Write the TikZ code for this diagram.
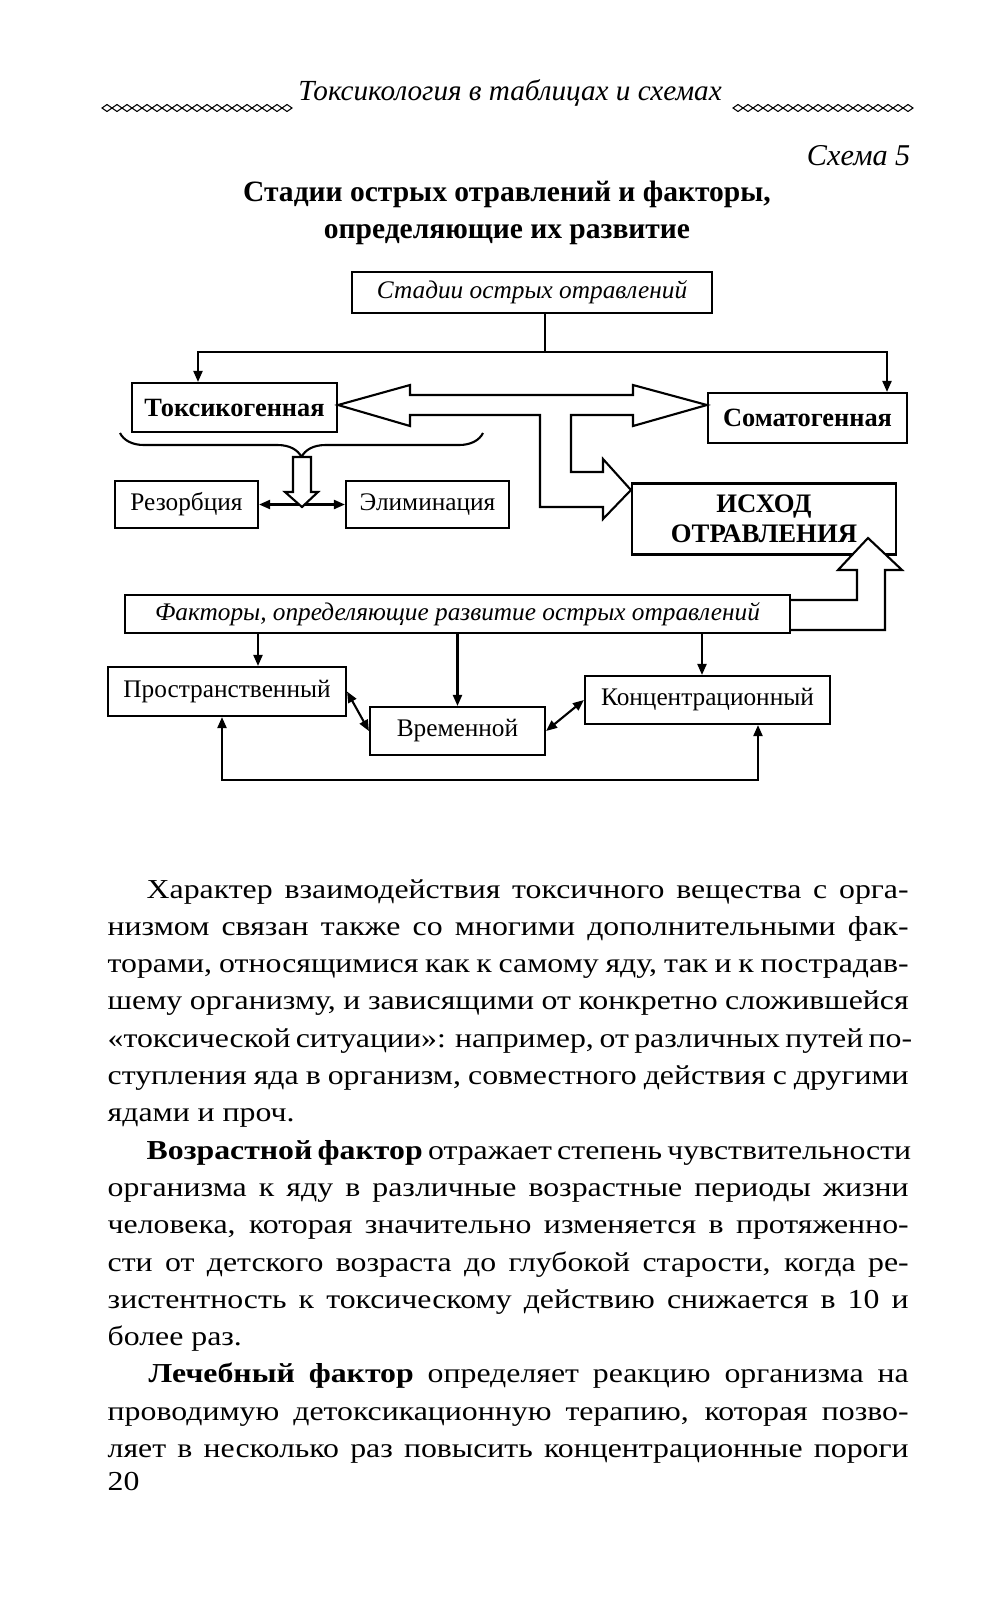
\documentclass[tikz,border=0pt]{standalone}
\usepackage{fontspec}
\setmainfont{Liberation Serif}
\newfontfamily\bodyfont[FakeStretch=1.16]{Liberation Serif}
\usetikzlibrary{arrows.meta,positioning,calc,decorations.pathreplacing}
\newcommand{\fullline}[1]{\makebox[80.1mm][s]{#1}}
\newcommand{\indline}[1]{\makebox[76.2mm][s]{#1}}

\begin{document}
\begin{tikzpicture}[x=0.1mm,y=-0.1mm,
      >={Triangle[length=1.1mm,width=0.9mm]},
      box/.style={draw,line width=0.6pt,inner sep=0pt,align=center,
                  font=\fontsize{7.2}{8}\selectfont},
      boxb/.style={box,font=\fontsize{7.5}{8}\selectfont\bfseries},
      boxi/.style={box,font=\fontsize{7.2}{8}\selectfont\itshape},
      wire/.style={line width=0.6pt},
      blk/.style={draw,fill=white,line width=0.6pt},
      orn/.style={line width=0.3pt},
      txt/.style={anchor=base west,inner sep=0pt,font=\fontsize{7.8}{9}\bodyfont}]
    \path[use as bounding box] (0,0) rectangle (996,1600);

    % page head
    \node[anchor=base,inner sep=0pt,font=\fontsize{8.3}{10}\selectfont\itshape] (head) at (510,100)
      {Токсикология в таблицах и схемах};
    \foreach \i in {0,...,18}
      \draw[orn] (102+\i*10,108) -- ++(5,-3.5) -- ++(5,3.5) -- ++(-5,3.5) -- cycle;
    \foreach \i in {0,...,17}
      \draw[orn] (733+\i*10,108) -- ++(5,-3.5) -- ++(5,3.5) -- ++(-5,3.5) -- cycle;
    \node[anchor=base east,inner sep=0pt,font=\fontsize{8.6}{10}\selectfont\itshape] (scheme) at (911,165) {Схема 5};
    \node[anchor=base,inner sep=0pt,font=\fontsize{8.4}{10}\selectfont\bfseries] (title1) at (507,201)
      {Стадии острых отравлений и факторы,};
    \node[anchor=base,inner sep=0pt,font=\fontsize{8.4}{10}\selectfont\bfseries] (title2) at (507,238)
      {определяющие их развитие};

    % stages
    \node[boxi,minimum width=36mm,minimum height=4.1mm] (stadii) at (532,292.5) {Стадии острых отравлений};
    \node[boxb,minimum width=20.5mm,minimum height=4.9mm] (toks) at (234.5,407.5) {Токсикогенная};
    \node[boxb,minimum width=19.9mm,minimum height=5mm] (somat) at (807.5,418) {Соматогенная};
    \node[box,minimum width=14.3mm,minimum height=4.7mm] (rezorb) at (186.5,504.5) {Резорбция};
    \node[box,minimum width=16.3mm,minimum height=4.7mm] (elim) at (427.5,504.5) {Элиминация};
    \node[boxb,font=\fontsize{7.6}{8.4}\selectfont\bfseries,minimum width=26.4mm,minimum height=7.1mm]
      (ishod) at (764,519) {ИСХОД\\ОТРАВЛЕНИЯ};

    \coordinate (fork) at (545,352);
    \draw[wire] (stadii.south -| fork) -- (fork);
    \draw[wire,->] (fork) -| (toks.north -| 198,0);
    \draw[wire,->] (fork) -| (somat.north -| 887,0);

    % two-way block arrow with its branch to the outcome
    \draw[blk] (toks.east |- 0,405) -- (410,385) -- (410,395) -- (633,395) -- (633,385)
      -- (somat.west |- 0,405) -- (633,426) -- (633,415) -- (571,415) -- (571,472)
      -- (603,472) -- (603,459) -- (ishod.west |- 0,490) -- (603,519) -- (603,507)
      -- (540,507) -- (540,415) -- (410,415) -- (410,426) -- cycle;

    \draw[wire,decorate,decoration={brace,mirror,amplitude=2.4mm}] (120,433) -- (483,433);
    \draw[wire,<->] (rezorb) -- (elim);
    \draw[blk] (293,457) -- (311,457) -- (311,492) -- (318,492) -- (302,507) -- (285,492)
      -- (293,492) -- cycle;

    % factors
    \node[boxi,minimum width=66.5mm,minimum height=3.8mm] (factors) at (457.5,614)
      {Факторы, определяющие развитие острых отравлений};
    \node[box,minimum width=23.8mm,minimum height=4.9mm] (prostr) at (227,691.5) {Пространственный};
    \node[box,minimum width=17.5mm,minimum height=4.8mm] (vrem) at (457.5,731) {Временной};
    \node[box,minimum width=24.5mm,minimum height=4.8mm] (konc) at (707.5,700) {Концентрационный};

    \draw[blk] (factors.east |- 0,600) -- (857,600) -- (857,570) -- (838,570) -- (868,538)
      -- (902,570) -- (885,570) -- (885,630) -- (factors.east |- 0,630);

    \foreach \x/\n in {258/prostr,457.5/vrem,702/konc}
      \draw[wire,->] (factors.south -| \x,0) -- (\n.north -| \x,0);
    \draw[wire,<->] (prostr.east) -- (vrem.west);
    \draw[wire,<->] (vrem.east) -- (konc.west);
    \coordinate (loop) at (222,780);
    \draw[wire,<->] (prostr.south -| loop) -- (loop) -| (konc.south -| 758,0);

    % body text
    \node[txt] (l1) at (146,898) {\indline{Характер взаимодействия токсичного вещества с орга-}};
    \node[txt] (l2) at (107,935.3) {\fullline{низмом связан также со многими дополнительными фак-}};
    \node[txt] (l3) at (107,972.6) {\fullline{торами, относящимися как к самому яду, так и к пострадав-}};
    \node[txt] (l4) at (107,1009.9) {\fullline{шему организму, и зависящими от конкретно сложившейся}};
    \node[txt] (l5) at (107,1047.2) {\fullline{«токсической ситуации»: например, от различных путей по-}};
    \node[txt] (l6) at (107,1084.5) {\fullline{ступления яда в организм, совместного действия с другими}};
    \node[txt] (l7) at (107,1121.8) {ядами и проч.};
    \node[txt] (l8) at (146,1159.1) {\indline{\textbf{Возрастной фактор} отражает степень чувствительности}};
    \node[txt] (l9) at (107,1196.4) {\fullline{организма к яду в различные возрастные периоды жизни}};
    \node[txt] (l10) at (107,1233.7) {\fullline{человека, которая значительно изменяется в протяженно-}};
    \node[txt] (l11) at (107,1271) {\fullline{сти от детского возраста до глубокой старости, когда ре-}};
    \node[txt] (l12) at (107,1308.3) {\fullline{зистентность к токсическому действию снижается в 10 и}};
    \node[txt] (l13) at (107,1345.6) {более раз.};
    \node[txt] (l14) at (148,1382.9) {\makebox[76mm][s]{\textbf{Лечебный фактор} определяет реакцию организма на}};
    \node[txt] (l15) at (107,1420.2) {\fullline{проводимую детоксикационную терапию, которая позво-}};
    \node[txt] (l16) at (107,1457.5) {\fullline{ляет в несколько раз повысить концентрационные пороги}};
    \node[txt] (pnum) at (107,1490) {20};
  \end{tikzpicture}
\end{document}
